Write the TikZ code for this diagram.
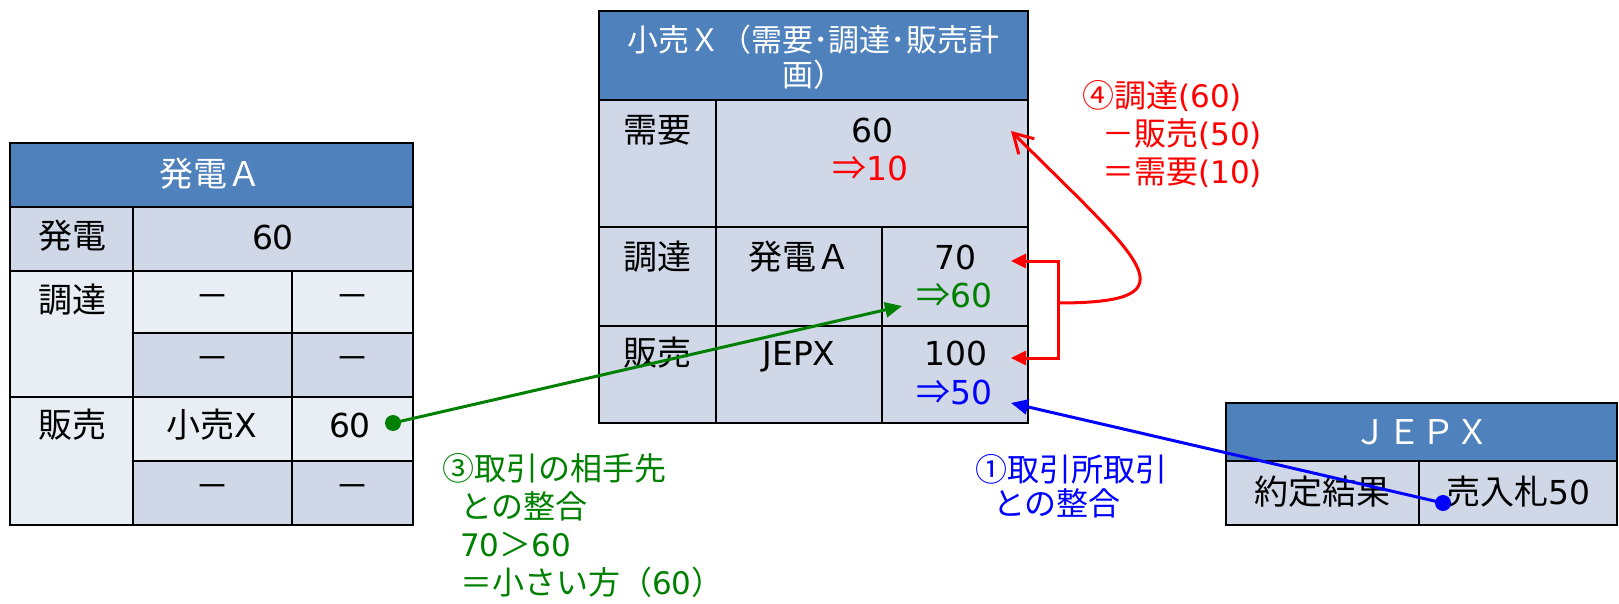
\documentclass[tikz,border=0pt]{standalone}
\usepackage{fontspec}
\setmainfont{Noto Sans CJK JP}
\newfontfamily\latfont{DejaVu Sans}[Scale=0.97]
\newcommand{\latn}[1]{{\latfont #1}}
\usetikzlibrary{arrows.meta}
\definecolor{hdr}{HTML}{4F81BD}
\definecolor{cdark}{HTML}{D0D8E8}
\definecolor{clight}{HTML}{E9EDF4}
\definecolor{gr}{HTML}{008000}
\definecolor{bl}{HTML}{0000FF}
\definecolor{rd}{HTML}{FF0000}
\tikzset{
  cell/.style={font=\fontsize{34}{40}\selectfont, inner sep=0pt},
  hdrtext/.style={text=white, font=\fontsize{34}{40}\selectfont, inner sep=0pt},
  note/.style={font=\fontsize{32}{38}\selectfont, align=left, inner sep=0pt, anchor=west},
  grid/.style={line width=2.6pt, draw=black, line cap=rect},
  link/.style={line width=3pt, line join=miter},
  tri/.style={-{Triangle[length=17pt,width=15pt]}},
}
\begin{document}
\begin{tikzpicture}[x=1pt,y=-1pt]
\useasboundingbox (0,0) rectangle (1619,604);
% ---------- Table A ----------
\fill[hdr] (10,143) rectangle (413,207);
\fill[cdark] (10,207) rectangle (413,271);
\fill[clight] (10,271) rectangle (133,397);
\fill[clight] (10,397) rectangle (133,525);
\fill[clight] (133,271) rectangle (413,333);
\fill[cdark] (133,333) rectangle (413,397);
\fill[clight] (133,397) rectangle (413,461);
\fill[cdark] (133,461) rectangle (413,525);
\draw[grid] (10,143) rectangle (413,525);
\draw[grid] (10,207) -- (413,207);
\draw[grid] (10,271) -- (413,271);
\draw[grid] (133,333) -- (413,333);
\draw[grid] (10,397) -- (413,397);
\draw[grid] (133,461) -- (413,461);
\draw[grid] (133,207) -- (133,525);
\draw[grid] (292,271) -- (292,525);
\node[hdrtext] (hA) at (210,174) {発電Ａ};
\node[cell] (a1l) at (72,236) {発電};
\node[cell] (a1v) at (273,237) {\latn{60}};
\node[cell] (a2l) at (72,300) {調達};
\node[cell] (a2a) at (212,302) {－};
\node[cell] (a2b) at (352,302) {－};
\node[cell] (a2c) at (212,364) {－};
\node[cell] (a2d) at (352,364) {－};
\node[cell] (a3l) at (72,425) {販売};
\node[cell] (a3p) at (212,425) {小売\latn{X}};
\node[cell] (a3v) at (350,425) {\latn{60}};
\node[cell] (a3c) at (212,492) {－};
\node[cell] (a3d) at (352,492) {－};
% ---------- Table X ----------
\fill[hdr] (599,11) rectangle (1028,100);
\fill[cdark] (599,100) rectangle (1028,423);
\draw[grid] (599,11) rectangle (1028,423);
\draw[grid] (599,100) -- (1028,100);
\draw[grid] (599,227) -- (1028,227);
\draw[grid] (599,326) -- (1028,326);
\draw[grid] (716,100) -- (716,423);
\draw[grid] (882,227) -- (882,423);
\node[hdrtext, font=\fontsize{31}{35}\selectfont, align=center] (hX) at (813,57) {小売Ｘ（需要･調達･販売計\\画）};
\node[cell] (xl1) at (657,130) {需要};
\node[cell] (xv1) at (872,130) {\latn{60}};
\node[cell, text=rd] (xv1b) at (870,168) {⇒\latn{10}};
\node[cell] (xl2) at (657,257) {調達};
\node[cell] (xp2) at (799,257) {発電Ａ};
\node[cell] (xv2) at (955,257) {\latn{70}};
\node[cell, text=gr] (xv2b) at (954,295) {⇒\latn{60}};
\node[cell] (xl3) at (657,353) {販売};
\node[cell, text depth=0pt] (xp3) at (799,353) {\latn{JEPX}};
\node[cell] (xv3) at (956,353) {\latn{100}};
\node[cell, text=bl] (xv3b) at (954,392) {⇒\latn{50}};
% ---------- Table JEPX ----------
\fill[hdr] (1226,403) rectangle (1617,461);
\fill[cdark] (1226,461) rectangle (1617,525);
\draw[grid] (1226,403) rectangle (1617,525);
\draw[grid] (1226,461) -- (1617,461);
\draw[grid] (1419,461) -- (1419,525);
\node[hdrtext] (hJ) at (1421,432) {ＪＥＰＸ};
\node[cell] (j1) at (1322,492) {約定結果};
\node[cell] (j2) at (1518,492) {売入札\latn{50}};
% ---------- connectors ----------
\coordinate (gs) at (393,423);
\coordinate (ge) at (902,306);
\coordinate (bs) at (1443,503);
\coordinate (be) at (1011,403);
\coordinate (r1) at (1011,261);
\coordinate (r2) at (1011,358);
\coordinate (rb1) at (1058,261);
\coordinate (rb2) at (1058,358);
\coordinate (rm) at (1058,303);
\coordinate (rt) at (1011,131);
\draw[gr, link, tri] (gs) -- (ge);
\fill[gr] (gs) circle (8);
\draw[bl, link, tri] (bs) -- (be);
\fill[bl] (bs) circle (8);
\draw[rd, link, {Triangle[length=15pt,width=14pt]}-{Triangle[length=15pt,width=14pt]}] (r1) -- (rb1) -- (rb2) -- (r2);
\draw[rd, link, -{Straight Barb[length=19pt,width=22pt]}] (rm) .. controls (1200,303) and (1140,260) .. (rt);
% ---------- annotations ----------
\node[note, text=rd] (nr) at (1082,134.5) {④調達\latn{(60)}\\\hspace*{20pt}－販売\latn{(50)}\\\hspace*{20pt}＝需要\latn{(10)}};
\node[note, text=gr] (ng) at (442,525) {③取引の相手先\\\hspace*{18pt}との整合\\\hspace*{18pt}\latn{70}＞\latn{60}\\\hspace*{18pt}＝小さい方（\latn{60}）};
\node[note, text=bl, font=\fontsize{32}{34}\selectfont] (nb) at (975,486) {①取引所取引\\\hspace*{18pt}との整合};
\end{tikzpicture}
\end{document}
